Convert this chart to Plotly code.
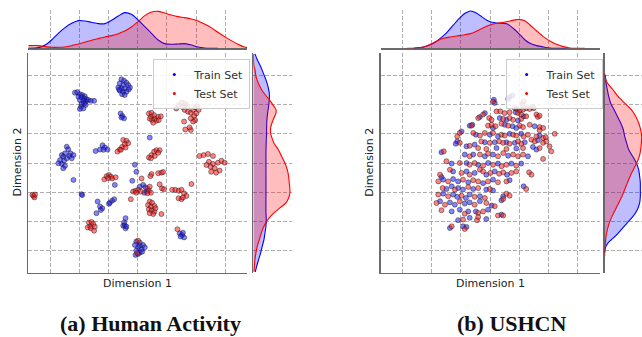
import plotly.graph_objects as go

# ---------------- data (t-SNE coordinates) ----------------
# (a) Human Activity
ha_train_x = [-21.6,-20.8,-19.9,-19.1,-18.2,-20.4,-19.3,-18.4,-17.6,-17.0,-16.1,-15.0,-19.9,-18.7,-17.9,-19.3,-18.4,-19.5,-18.7,-19.9,-17.9,
              -5.6,-4.7,-3.9,-6.2,-5.0,-3.3,-6.7,-5.6,-4.5,-3.1,-6.2,-5.0,-3.9,-5.4,-4.5,-2.7,-6.4,
              -5.9,-5.3,-4.7,-5.6, 4.1,
              -14.5,-13.0,-12.1,-11.3,-10.4,-11.8,
              -24.4,-23.9,-23.1,-25.0,-26.1,-23.5,-22.1,-26.7,-25.3,-26.1,-25.0,-25.6,-27.3,-24.4,-22.7,-25.6,
              -1.0,-22.1,-7.9,-0.5,-1.9,0.7,1.8,2.6,2.2,3.1,-19.3,-19.1,
              -13.8,-13.0,-12.2,-14.2,-12.7,-9.6,-8.8,-8.1,-9.9,
              -4.2,-4.7,-5.0,-4.2,-4.5,-3.9,
              -0.5,0.7,-1.0,0.7,1.8,0.1,1.3,2.4,-0.5,0.7,-0.8,0.1,1.5,
              14.4,15.2,15.9,14.7,15.5]
ha_train_y = [24.1,24.3,23.6,23.3,22.9,22.7,22.5,22.1,21.8,21.6,21.3,21.3,21.6,21.3,21.0,20.2,20.4,19.3,18.7,18.5,19.9,
              28.7,28.2,27.5,27.3,26.7,26.7,25.9,25.6,25.6,25.2,24.8,24.4,24.4,23.6,23.3,25.9,25.2,
              17.0,16.1,15.3,15.6, 8.7,
              4.1,4.6,6.1,5.3,4.6,4.5,
              5.6,4.7,3.3,3.3,2.7,2.4,2.7,1.0,0.8,-0.3,-1.0,-1.8,-0.1,1.6,1.6,2.2,
              -0.6,-5.8,-7.5,-3.0,-6.1,-8.1,-7.5,-8.3,-10.2,-9.8,-10.7,-11.0,
              -13.2,-14.9,-15.5,-17.2,-16.1,-13.6,-12.9,-12.4,-14.0,
              -18.9,-20.4,-21.5,-22.4,-21.3,-21.8,
              -26.9,-27.3,-28.1,-28.4,-28.1,-28.9,-29.6,-28.9,-30.0,-30.7,-31.5,-31.2,-30.4,
              -24.1,-24.7,-25.5,-25.2,-23.9]
ha_test_x = [3.8,4.7,5.6,4.5,5.8,7.0,7.9,4.9,6.4,7.2,5.3,4.1,
             13.2,14.0,15.2,16.3,17.0,15.5,16.1,17.2,18.2,19.0,19.7,20.4,20.9,20.1,19.3,19.7,19.0,18.2,15.9,16.3,18.2,17.8,
             3.8,4.7,5.6,6.4,7.5,5.8,4.5,7.0,
             -5.0,-3.9,-3.3,-4.5,-5.4,-4.2,-6.2,-7.0,-5.8,
             21.2,22.6,24.1,25.8,24.4,25.8,27.5,28.7,29.8,26.4,25.2,26.9,28.1,23.6,25.0,
             -11.5,-10.7,-9.9,-9.2,-8.8,-7.6,-10.2,
             -2.4,-1.6,-0.8,0.1,1.0,-0.5,3.3,4.1,3.8,4.5,3.3,
             4.1,4.9,3.5,4.5,5.7,3.8,4.7,5.7,4.1,5.3,6.1,
             8.1,1.3,4.7,4.3,7.0,8.1,8.7,7.5,8.3,9.0,11.8,12.9,14.0,15.0,15.9,16.7,14.0,15.0,15.5,18.4,
             -35.8,-35.5,-36.2,-35.3,
             -16.8,-15.9,-15.3,-16.4,-17.2,-16.1,-15.0,-14.8,
             0.1,-0.2,13.6]
ha_test_y = [17.0,17.2,16.4,15.8,15.2,15.8,16.0,14.7,14.5,14.7,13.8,15.2,
             18.7,19.9,20.7,20.4,19.5,19.1,18.2,17.6,17.2,18.2,19.1,19.5,18.2,17.0,16.1,14.7,14.2,15.3,14.2,11.5,11.3,12.2,
             1.9,2.7,3.9,4.4,4.4,2.4,1.6,3.5,
             7.9,7.6,6.8,6.4,5.5,5.3,4.6,3.9,4.5,
             2.4,2.7,3.1,2.4,0.4,-0.3,0.1,0.8,0.1,-1.8,-3.0,-3.3,-2.6,-0.7,-1.3,
             -5.6,-4.5,-4.1,-4.7,-5.3,-4.9,-5.2,
             -12.4,-9.8,-9.5,-9.2,-9.8,-10.2,-8.7,-8.1,-9.5,-10.2,-10.4,
             -13.2,-13.6,-14.4,-15.0,-14.7,-15.9,-16.3,-16.7,-17.2,-17.5,-15.5,
             -17.5,-5.3,-3.8,-4.5,-3.5,-3.3,-3.1,-7.3,-8.7,-9.0,-9.2,-9.2,-9.5,-9.2,-10.4,-11.3,-12.1,-12.4,-11.8,-7.2,
             -11.3,-11.8,-10.9,-10.8,
             -20.4,-20.2,-20.9,-21.8,-22.1,-22.4,-23.2,-21.8,
             -26.6,-30.9,-22.7]

# (b) USHCN
us_train_x = [6.7,7.7,6.2,1.3,1.6,8.8,11.5,-1.8,-3.5,3.3,5.6,9.6,-7.0,-6.1,1.0,5.0,7.7,9.0,15.3,-9.8,-4.9,-0.1,2.7,6.7,10.7,17.0,
              -11.3,-11.8,-8.1,-5.3,-1.8,1.6,5.6,8.5,11.9,16.4,2.2,9.0,14.7,
              15.9,-16.7,-8.7,-5.8,-1.8,1.0,6.2,13.0,-13.2,-8.1,-4.1,-0.7,2.7,7.3,10.7,
              -16.7,-12.7,-8.1,-5.3,-1.3,1.6,5.8,-16.1,-12.7,-11.0,-7.5,-2.4,1.0,6.7,
              -15.0,-13.2,-11.0,-9.3,-5.8,-1.3,1.0,11.5,-16.1,-12.7,-11.3,-8.3,-7.0,-3.5,4.5,
              -17.2,-13.8,-12.1,-8.7,-7.0,-3.5,0.5,3.9,-13.2,-10.4,-7.5,-4.9,-0.7,3.9,
              -11.0,-7.0,-1.3,-13.8,-9.3,-8.1]
us_train_y = [22.6,23.1,21.9,21.7,20.6,17.4,16.0,17.1,15.8,15.4,14.8,14.6,12.8,13.1,12.0,13.1,12.6,12.0,12.6,10.8,9.7,9.7,9.1,10.0,10.0,9.4,
              7.4,6.6,5.7,6.3,7.1,7.1,7.1,6.9,7.1,7.8,5.1,5.0,5.5,
              4.6,3.7,2.9,2.9,2.3,2.9,2.5,2.3,-0.2,0.0,-0.6,0.0,-0.2,-0.2,-0.2,
              -4.8,-2.9,-2.9,-3.4,-4.0,-2.9,-4.0,-5.7,-5.5,-6.3,-6.6,-6.9,-5.7,-5.9,
              -8.9,-8.0,-8.6,-9.1,-8.9,-9.1,-9.4,-8.0,-10.5,-10.8,-11.6,-12.0,-10.8,-11.4,-11.4,
              -13.1,-13.5,-14.3,-13.9,-13.5,-13.1,-14.6,-12.8,-16.6,-16.0,-16.6,-16.6,-16.0,-17.7,
              -19.6,-18.8,-19.2,-22.3,-21.7,-21.9]
us_test_x = [1.0,11.5,11.1,8.5,9.2,10.2,11.3,12.4,13.6,14.5,15.0,9.6,10.7,12.4,-2.4,-4.1,2.2,3.5,5.0,6.7,-0.3,0.5,4.5,6.7,7.9,10.7,
             15.9,16.4,17.0,-6.4,-0.7,0.5,1.9,3.9,6.2,10.2,11.3,13.6,17.0,18.2,17.0,-10.4,-11.3,-5.8,-3.5,-1.8,1.0,3.9,5.0,7.9,9.0,
             11.5,13.0,15.9,18.2,19.1,22.2,-10.4,-7.0,-3.0,-0.1,3.1,4.5,6.7,9.6,10.7,14.2,15.3,18.2,19.3,-4.1,-1.3,5.6,11.3,17.0,20.4,
             21.0,-15.9,-7.0,-3.5,-0.7,2.7,4.5,7.9,9.6,11.3,18.2,-15.0,-10.4,-7.0,-5.3,-2.4,1.0,3.9,5.6,9.0,
             -17.2,-17.8,-13.8,-9.8,-7.0,-3.5,-2.4,0.1,3.1,4.5,7.3,9.0,13.4,14.2,-14.4,-9.3,-5.8,-4.1,-0.7,2.7,5.6,
             -16.3,-12.1,-7.5,-4.1,-0.1,12.4,-17.8,-14.4,-9.8,-5.3,-1.8,5.6,6.7,-18.4,-15.5,-10.4,-5.3,-1.3,1.6,4.5,
             -16.7,-8.7,-4.1,-2.4,2.7,4.5,-9.3,-4.5,-4.1,-13.2,-8.7]
us_test_y = [21.1,21.1,20.0,18.8,18.5,18.0,18.3,18.8,18.5,19.2,18.8,17.1,16.6,16.0,16.6,15.4,17.7,17.7,17.1,17.4,15.4,14.8,15.1,15.4,14.8,15.1,
             16.6,15.8,16.2,12.8,12.8,13.1,12.6,13.5,12.8,12.8,12.3,13.1,12.3,12.0,11.2,10.3,9.1,10.3,9.4,10.3,10.3,9.7,9.4,9.7,9.4,
             9.1,9.7,9.1,8.6,8.9,10.0,6.9,5.9,7.4,6.9,7.4,6.9,6.6,7.4,6.6,8.0,7.4,6.9,7.4,5.1,4.8,4.8,5.1,5.1,5.7,
             4.0,4.0,2.3,2.9,3.2,2.3,3.4,2.9,2.3,2.9,1.4,0.6,0.0,-0.6,0.0,-0.9,-0.6,-1.1,-0.6,-0.9,
             -4.0,-6.3,-2.3,-3.4,-4.0,-2.3,-2.9,-3.4,-3.7,-3.2,-3.4,-2.9,-3.2,-4.0,-6.3,-5.7,-5.9,-6.3,-6.3,-6.6,-6.3,
             -8.6,-9.1,-8.2,-8.6,-8.9,-8.9,-10.8,-11.4,-11.2,-11.6,-12.0,-10.5,-11.2,-13.7,-14.3,-13.1,-14.3,-13.7,-14.8,-12.3,
             -16.2,-17.4,-17.1,-16.6,-18.0,-18.0,-19.4,-19.6,-18.5,-21.7,-22.6]

# marginal KDE curves (density, arbitrary units)
ha_kde_x = [-37.6,-34.1,-31.8,-29.6,-27.3,-25.0,-22.7,-20.4,-18.2,-15.9,-13.6,-11.3,-9.0,-6.7,-4.5,-2.2,0.1,2.4,4.7,7.0,
            9.2,11.5,13.8,16.1,18.4,20.7,22.9,25.2,27.5,29.8,32.1,34.4,36.6,37.6]
ha_kde_x_train = [0,2,10,25,45,62,75,83,82,78,74,74,84,97,107,102,85,65,45,25,14,12,13,14,10,4,1,0,0]
ha_kde_x_test = [8,8,5,3,3,4,8,13,18,24,29,34,38,44,52,64,80,98,109,111,106,100,95,92,88,82,73,62,48,35,23,12,4,2]

ha_kde_y_train_pos = [37.4,35.4,33.1,30.8,28.5,26.3,24.0,21.7,19.4,17.1,14.8,12.6,10.3,8.0,3.4,-3.4,-10.3,-17.1,-19.4,
                      -21.7,-24.0,-26.3,-28.5,-30.8,-33.1,-35.4,-37.3]
ha_kde_y_train = [5,12,22,30,38,44,48,48,46,43,41,40,40,39,38,38,38,38,39,38,35,32,27,22,16,10,6]
ha_kde_y_test_pos = [37.4,33.1,32.0,29.7,27.4,25.1,22.8,21.1,19.4,18.3,17.1,15.4,13.7,12.0,10.3,8.6,6.8,4.6,2.3,0.0,
                     -2.3,-4.6,-6.8,-9.1,-10.3,-12.0,-13.7,-15.4,-17.1,-18.8,-20.0,-21.7,-24.0,-26.3,-28.5,-30.8,-33.1,-37.3]
ha_kde_y_test = [0,2,5,8,15,25,40,52,62,68,68,62,56,52,52,56,62,75,85,95,102,106,108,110,110,106,98,80,62,48,40,32,24,18,12,8,5,2]

us_kde_x_train_pos = [-26.3,-24.0,-21.7,-19.4,-17.1,-14.8,-12.6,-10.3,-8.6,-6.8,-5.7,-4.6,-2.9,-1.1,0.6,2.3,4.0,5.7,6.8,8.6,
                      10.3,12.0,13.7,16.0,18.3,20.5,22.8,26.3]
us_kde_x_train = [0,2,7,15,30,48,70,92,105,112,110,105,95,84,78,76,75,74,68,55,40,25,15,8,4,1,0,0]
us_kde_x_test_pos = [-28.5,-25.1,-22.8,-20.5,-18.3,-16.0,-13.7,-11.4,-9.1,-6.8,-4.6,-2.3,0.0,2.3,4.6,6.8,9.1,10.3,12.0,13.7,
                     16.0,18.3,20.5,22.8,25.1,27.4,29.7,32.5]
us_kde_x_test = [0,1,4,12,22,30,34,37,40,44,52,62,70,75,78,82,86,86,82,70,52,35,22,12,5,1,0,0]

us_kde_y_train_pos = [30.3,29.7,27.4,25.1,22.8,20.5,18.3,16.0,13.7,11.4,9.1,6.8,4.6,2.3,0.0,-2.3,-4.6,-6.8,-9.1,-11.4,
                      -13.7,-16.0,-18.3,-20.5,-22.8,-25.1,-26.3,-27.4,-29.1,-30.8]
us_kde_y_train = [0,2,4,8,12,18,28,38,48,56,60,66,72,84,95,102,105,107,107,107,105,98,85,68,50,32,20,10,2,0]
us_kde_y_test_pos = [30.8,29.7,27.4,25.1,22.8,20.5,18.3,16.0,13.7,11.4,9.1,6.8,4.6,2.3,0.0,-2.3,-4.6,-6.8,-9.1,-11.4,
                     -13.7,-16.0,-18.3,-20.5,-22.8,-25.1,-27.4,-29.7,-32.0]
us_kde_y_test = [0,0,8,25,40,60,80,93,102,108,111,110,108,104,96,86,76,68,60,52,42,32,22,14,8,4,2,0,0]

grid_vals = [-30, -20, -10, 0, 10, 20, 30]
labels = ["Train Set", "Test Set"]
captions = ["(a) Human Activity", "(b) USHCN"]

# ---------------- layout helpers ----------------
W, H = 642, 337
def fx(p):
    return p / W
def fy(p):
    return 1 - p / H

RNG = [-37.6, 37.6]
BLUE, RED = "#0000ff", "#ff0000"
BLUE_F, RED_F = "rgba(0,0,255,0.26)", "rgba(255,0,0,0.26)"
GRID = dict(showgrid=True, gridcolor="#9a9a9a", gridwidth=0.8, griddash="4px,2px",
            tickvals=grid_vals, showticklabels=False, ticks="", zeroline=False)
SPINE = dict(showline=True, linecolor="#6a6a6a", linewidth=1.6)
NOAX = dict(showgrid=False, showticklabels=False, ticks="", zeroline=False, showline=False)

fig = go.Figure()

panels = [
    dict(tx=ha_train_x, ty=ha_train_y, sx=ha_test_x, sy=ha_test_y,
         top=[(ha_kde_x[:len(ha_kde_x_train)], ha_kde_x_train, BLUE, BLUE_F), (ha_kde_x, ha_kde_x_test, RED, RED_F)],
         side=[(ha_kde_y_train_pos, ha_kde_y_train, BLUE, BLUE_F), (ha_kde_y_test_pos, ha_kde_y_test, RED, RED_F)],
         x0=28.3, side_dom=(253.3, 291.6), side_rng=115, legend="legend"),
    dict(tx=us_train_x, ty=us_train_y, sx=us_test_x, sy=us_test_y,
         top=[(us_kde_x_train_pos, us_kde_x_train, BLUE, BLUE_F), (us_kde_x_test_pos, us_kde_x_test, RED, RED_F)],
         side=[(us_kde_y_train_pos, us_kde_y_train, BLUE, BLUE_F), (us_kde_y_test_pos, us_kde_y_test, RED, RED_F)],
         x0=380.6, side_dom=(604.7, 642), side_rng=112, legend="legend2"),
]

main_y = [fy(272.7), fy(53.3)]
top_y = [fy(48.3), fy(10.0)]
layout = {}
for i, p in enumerate(panels):
    a = 3 * i
    xm, ym = f"x{a+1 if a else ''}", f"y{a+1 if a else ''}"
    xt, yt = f"x{a+2}", f"y{a+2}"
    xs, ys = f"x{a+3}", f"y{a+3}"
    main_x = [fx(p["x0"]), fx(p["x0"] + 219)]
    layout["xaxis" + (str(a+1) if a else "")] = dict(domain=main_x, range=RNG, anchor=ym, **GRID, **SPINE)
    layout["yaxis" + (str(a+1) if a else "")] = dict(domain=main_y, range=RNG, anchor=xm, **GRID, **SPINE)
    layout[f"xaxis{a+2}"] = dict(domain=main_x, range=RNG, anchor=yt, layer="below traces", **GRID, **SPINE)
    layout[f"yaxis{a+2}"] = dict(domain=top_y, range=[0, 115], anchor=xt, **NOAX)
    layout[f"xaxis{a+3}"] = dict(domain=[fx(p["side_dom"][0]), min(1.0, fx(p["side_dom"][1]))],
                                 range=[0, p["side_rng"]], anchor=ys, **NOAX)
    layout[f"yaxis{a+3}"] = dict(domain=main_y, range=RNG, anchor=xs, layer="below traces", **GRID, **SPINE)

    for xx, yy, c in [(p["tx"], p["ty"], "rgba(30,30,255,0.55)"), (p["sx"], p["sy"], "rgba(255,30,30,0.55)")]:
        fig.add_trace(go.Scatter(x=xx, y=yy, mode="markers", xaxis=xm, yaxis=ym, showlegend=False,
                                 marker=dict(size=5, color=c, line=dict(color="rgba(20,20,20,0.75)", width=0.6))))
    for xx, dd, lc, fc in p["top"]:
        fig.add_trace(go.Scatter(x=xx, y=dd, mode="lines", xaxis=xt, yaxis=yt, showlegend=False,
                                 fill="tozeroy", fillcolor=fc, line=dict(color=lc, width=1.1, shape="spline", smoothing=0.8)))
    for yy, dd, lc, fc in p["side"]:
        fig.add_trace(go.Scatter(x=dd, y=yy, mode="lines", xaxis=xs, yaxis=ys, showlegend=False,
                                 fill="tozerox", fillcolor=fc, line=dict(color=lc, width=1.1, shape="spline", smoothing=0.8)))
    for name, c in zip(labels, [BLUE, RED]):
        fig.add_trace(go.Scatter(x=[None], y=[None], mode="markers", xaxis=xm, yaxis=ym, name=name,
                                 legend=p["legend"], marker=dict(size=3, color=c)))
    leg = dict(x=fx(p["x0"] + 125), y=fy(59), xanchor="left", yanchor="top",
               bgcolor="rgba(255,255,255,0.85)", bordercolor="#cccccc", borderwidth=1,
               font=dict(family="DejaVu Sans", size=11, color="#333333"), itemsizing="trace")
    layout[p["legend"]] = leg

annotations = []
for i, p in enumerate(panels):
    cx = p["x0"] + 109.5
    annotations.append(dict(text="Dimension 1", x=fx(cx), y=fy(283), xref="paper", yref="paper",
                            xanchor="center", yanchor="middle",
                            showarrow=False, font=dict(family="DejaVu Sans", size=11, color="#222222")))
    annotations.append(dict(text="Dimension 2", x=fx(p["x0"] - 11.3), y=fy(162.5), xref="paper", yref="paper",
                            xanchor="center", yanchor="middle",
                            textangle=-90, showarrow=False, font=dict(family="DejaVu Sans", size=11, color="#222222")))
    annotations.append(dict(text="<b>" + captions[i] + "</b>", x=fx([150, 512][i]), y=fy(323), xref="paper", yref="paper",
                            xanchor="center", yanchor="middle",
                            showarrow=False, font=dict(family="Liberation Serif", size=22, color="#111111")))

fig.update_layout(width=W, height=H, margin=dict(l=0, r=0, t=0, b=0), paper_bgcolor="white",
                  plot_bgcolor="white", annotations=annotations, hovermode=False, **layout)
fig.write_html("out.html", config={"displayModeBar": False, "staticPlot": True},
               post_script="document.body.style.margin='0';")
